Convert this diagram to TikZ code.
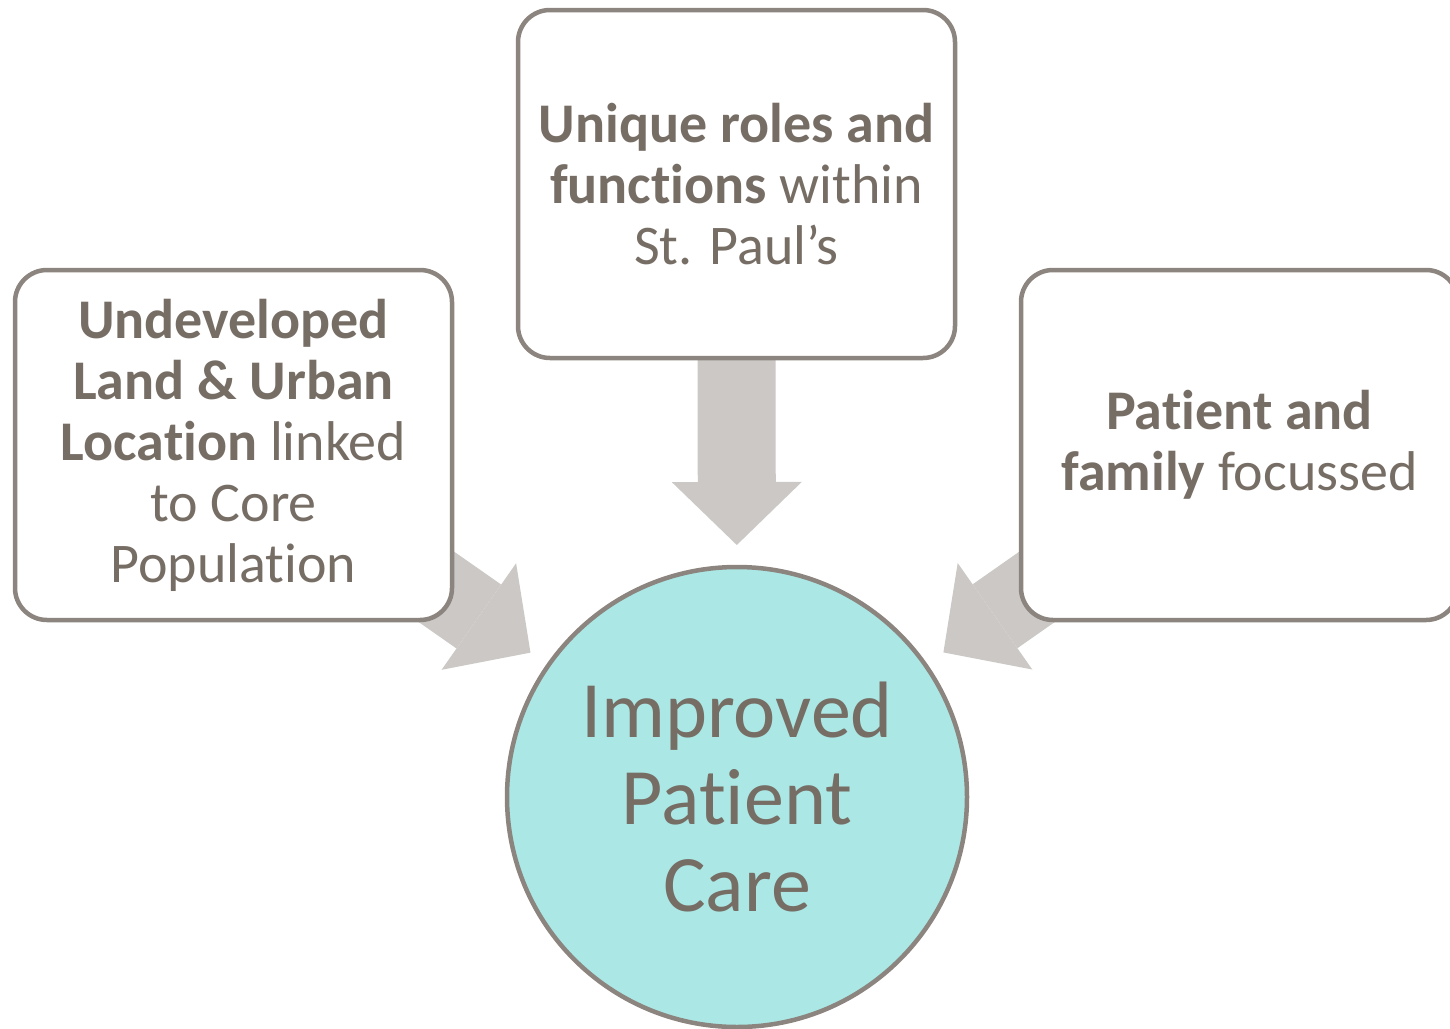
\documentclass[tikz,border=0pt]{standalone}
\usepackage{fontspec}
\setmainfont[Ligatures=NoCommon]{Carlito}
\usetikzlibrary{arrows.meta,backgrounds}
\definecolor{txtc}{RGB}{118,109,101}
\definecolor{edgec}{RGB}{140,132,126}
\definecolor{arrc}{RGB}{203,200,197}
\definecolor{hubc}{RGB}{171,232,229}
\begin{document}
\begin{tikzpicture}[x=0.5pt,y=0.5pt,
  box/.style={draw=edgec, line width=2.25pt, fill=white, rounded corners=16pt,
    minimum width=218.5pt, minimum height=175pt, inner sep=0pt, align=center,
    text=txtc, font=\fontsize{28}{30.5}\selectfont},
  hub/.style={circle, draw=edgec, line width=2.25pt, fill=hubc, minimum size=230pt,
    inner sep=0pt, align=center, text=txtc, font=\fontsize{40}{43.5}\selectfont},
  bigarrow/.style={draw=arrc, line width=39pt,
    -{Triangle[width=65pt,length=31.5pt,line width=0pt]}, shorten >=126pt}]
\useasboundingbox (0,0) rectangle (1450,-1028);
\node[box] (left) at (233.5,-445) {\textbf{Undeveloped}\\\textbf{Land \& Urban}\\\textbf{Location} linked\\to Core\\Population};
\node[box, minimum height=174pt] (top) at (736.5,-184) {\textbf{Unique roles and}\\\textbf{functions} within\\St. Paul’s};
\node[box] (right) at (1239.5,-445) {\textbf{Patient and}\\\textbf{family} focussed};
\node[hub] (care) at (737,-797) {Improved\\Patient\\Care};
\begin{scope}[on background layer]
\draw[bigarrow] (left.center) -- (care.center);
\draw[bigarrow] (top.center) -- (care.center);
\draw[bigarrow] (right.center) -- (care.center);
\end{scope}
\end{tikzpicture}
\end{document}
